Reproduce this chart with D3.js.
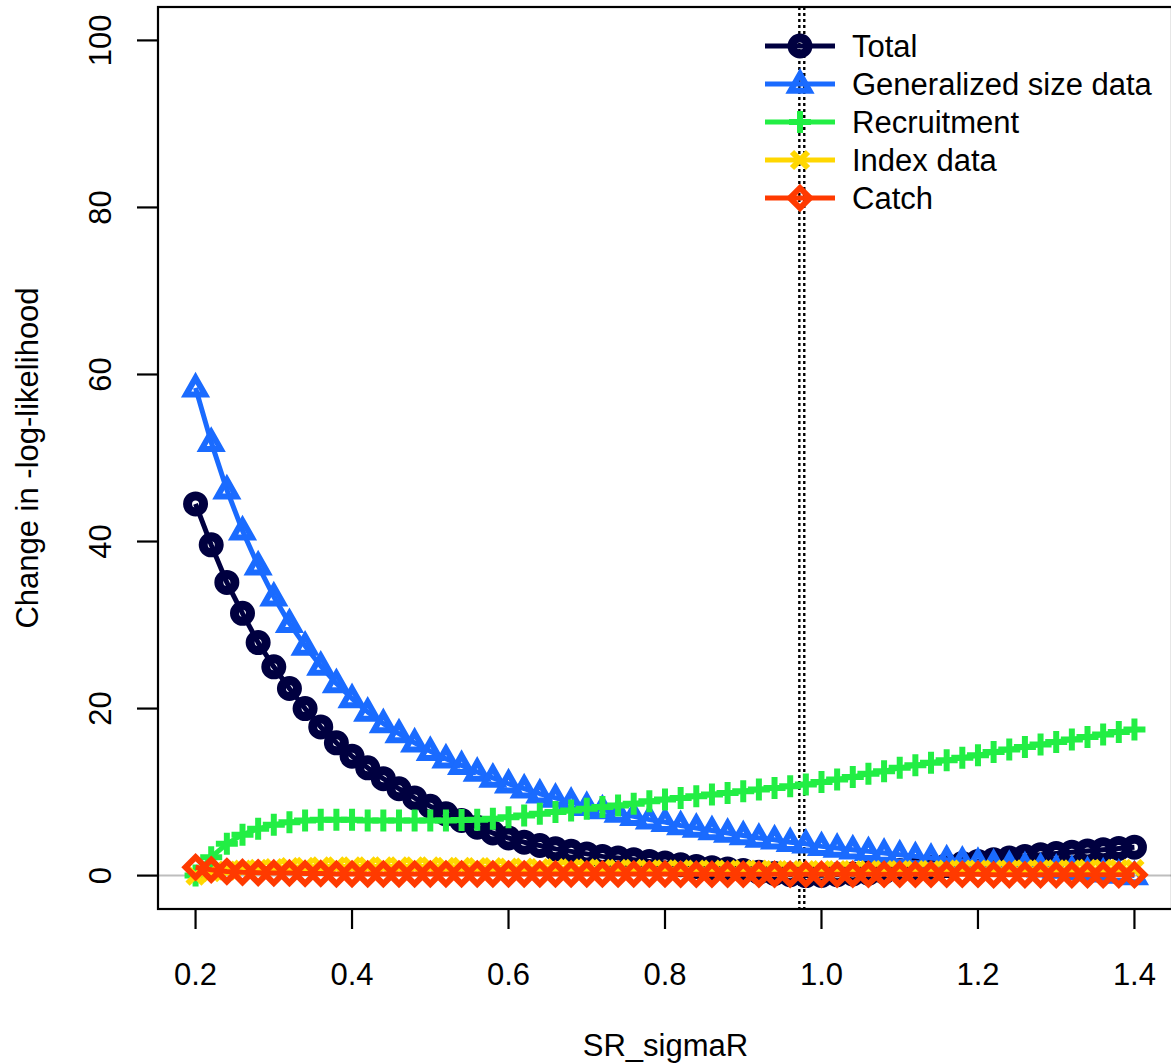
<!DOCTYPE html>
<html>
<head>
<meta charset="utf-8">
<script src="https://cdn.jsdelivr.net/npm/d3@7"></script>
<style>
  html, body { margin: 0; padding: 0; background: #fff; }
  svg { display: block; font-family: "Liberation Sans", Arial, sans-serif; }
</style>
</head>
<body>
<svg id="chart" width="1171" height="1063"></svg>
<script>
// ---------------- data ----------------
const sigmaR = [0.20,0.22,0.24,0.26,0.28,0.30,0.32,0.34,0.36,0.38,0.40,0.42,0.44,0.46,0.48,0.50,
  0.52,0.54,0.56,0.58,0.60,0.62,0.64,0.66,0.68,0.70,0.72,0.74,0.76,0.78,0.80,0.82,0.84,0.86,0.88,0.90,
  0.92,0.94,0.96,0.98,1.00,1.02,1.04,1.06,1.08,1.10,1.12,1.14,1.16,1.18,1.20,1.22,1.24,1.26,1.28,1.30,
  1.32,1.34,1.36,1.38,1.40];

const totalVals = [44.5,39.6,35.1,31.4,27.9,25.0,22.4,20.0,17.8,15.9,14.3,12.9,11.6,10.4,9.3,8.3,
  7.4,6.6,5.8,5.1,4.5,4.0,3.6,3.2,2.9,2.6,2.3,2.1,1.9,1.7,1.5,1.3,1.1,0.95,0.8,0.6,
  0.4,0.25,0.1,0.0,0.03,0.1,0.2,0.3,0.45,0.6,0.8,1.0,1.2,1.45,1.7,1.9,2.1,2.3,2.5,2.65,
  2.8,2.95,3.1,3.25,3.4];

const sizeVals = [58.4,51.9,46.2,41.3,37.1,33.4,30.2,27.5,25.1,23.0,21.2,19.6,18.2,17.0,15.9,14.9,
  14.0,13.2,12.4,11.7,11.0,10.4,9.8,9.3,8.8,8.3,7.9,7.5,7.1,6.7,6.4,6.0,5.7,5.4,5.1,4.8,
  4.5,4.3,4.0,3.8,3.5,3.3,3.1,2.9,2.7,2.5,2.3,2.1,1.9,1.75,1.6,1.4,1.25,1.1,0.95,0.8,
  0.65,0.5,0.35,0.2,0.0];

const recruitVals = [0.0,2.2,3.8,4.9,5.6,6.1,6.4,6.6,6.7,6.7,6.7,6.6,6.6,6.6,6.6,6.6,
  6.6,6.65,6.7,6.8,7.0,7.2,7.4,7.6,7.8,8.0,8.2,8.4,8.6,8.9,9.1,9.3,9.5,9.7,9.9,10.1,
  10.3,10.5,10.7,10.9,11.2,11.5,11.8,12.2,12.5,12.9,13.2,13.5,13.8,14.1,14.4,14.8,15.1,15.4,15.7,16.0,
  16.3,16.6,16.9,17.2,17.5];

const indexVals = [0.0,0.4,0.6,0.7,0.8,0.9,1.0,1.05,1.1,1.1,1.1,
  1.1,1.1,1.1,1.1,1.1, 1.05,1.05,1.0,1.0,0.95, 0.95,0.9,0.9,0.85,0.85, 0.8,0.8,0.8,0.75,0.75,
  0.75,0.7,0.7,0.7,0.7, 0.7,0.65,0.65,0.65,0.65, 0.65,0.65,0.65,0.65,0.65, 0.65,0.65,0.7,0.7,0.7,
  0.7,0.7,0.75,0.75,0.75, 0.75,0.8,0.8,0.8,0.8];

const catchVals = [1.0,0.7,0.5,0.4,0.35,0.3,0.3,0.25,0.25,0.2,0.2,
  0.2,0.2,0.2,0.2,0.2, 0.2,0.2,0.2,0.2,0.2, 0.2,0.2,0.2,0.2,0.2, 0.2,0.2,0.2,0.2,0.2,
  0.15,0.15,0.15,0.15,0.15, 0.15,0.15,0.15,0.15,0.15, 0.15,0.15,0.15,0.15,0.15, 0.15,0.15,0.15,0.15,0.15,
  0.1,0.1,0.1,0.1,0.1, 0.1,0.1,0.1,0.1,0.1];

const seriesNames = ["Total","Generalized size data","Recruitment","Index data","Catch"];
const seriesColors = ["#000040","#1a6bff","#22ee44","#ffd700","#ff3a00"];
const seriesShapes = ["circle","triangle","plus","cross","diamond"];
const seriesValues = [totalVals, sizeVals, recruitVals, indexVals, catchVals];

const xTicks = [0.2,0.4,0.6,0.8,1.0,1.2,1.4];
const yTicks = [0,20,40,60,80,100];
const refLines = [0.9717, 0.978];

const xTitle = "SR_sigmaR";
const yTitle = "Change in -log-likelihood";

// ---------------- layout ----------------
const svg = d3.select("#chart");
const L = 158, R = 1172, T = 7, B = 909;
const x = d3.scaleLinear().domain([0.152, 1.448]).range([L, R]);
const y = d3.scaleLinear().domain([-4, 104]).range([B, T]);
const FS = 31;

svg.append("defs").append("clipPath").attr("id","plotclip")
  .append("rect").attr("x",L).attr("y",T).attr("width",R-L).attr("height",B-T);

// zero line
svg.append("line")
  .attr("x1",L).attr("x2",R).attr("y1",y(0)).attr("y2",y(0))
  .attr("stroke","#bebebe").attr("stroke-width",2);

// reference dotted lines
svg.append("g").selectAll("line").data(refLines).join("line")
  .attr("x1",d=>x(d)).attr("x2",d=>x(d)).attr("y1",T).attr("y2",B)
  .attr("stroke","#000").attr("stroke-width",2.4).attr("stroke-dasharray","3,3");

function symbolPath(shape) {
  switch (shape) {
    case "triangle": { const h = 9; return `M0,${-h*1.1}L${h*1.05},${h*0.75}L${-h*1.05},${h*0.75}Z`; }
    case "plus": { const a = 11; return `M${-a},0L${a},0M0,${-a}L0,${a}`; }
    case "cross": { const a = 8; return `M${-a},${-a}L${a},${a}M${-a},${a}L${a},${-a}`; }
    case "diamond": { const a = 10; return `M0,${-a}L${a},0L0,${a}L${-a},0Z`; }
  }
  return null;
}

function drawMarker(g, shape, color, cx, cy) {
  if (shape === "circle") {
    g.append("circle").attr("cx",cx).attr("cy",cy).attr("r",8)
      .attr("fill","none").attr("stroke",color).attr("stroke-width",9);
  } else {
    g.append("path").attr("d",symbolPath(shape))
      .attr("transform",`translate(${cx},${cy})`)
      .attr("fill","none").attr("stroke",color)
      .attr("stroke-width",6)
      .attr("stroke-linejoin","miter");
  }
}

const plotG = svg.append("g").attr("clip-path","url(#plotclip)");
const line = d3.line().x(d=>x(d[0])).y(d=>y(d[1]));

seriesValues.forEach((vals, i) => {
  const pts = sigmaR.map((xv, j) => [xv, vals[j]]);
  const g = plotG.append("g");
  g.append("path").datum(pts).attr("d", line)
    .attr("fill","none").attr("stroke",seriesColors[i]).attr("stroke-width",5)
    .attr("stroke-linejoin","round");
  pts.forEach(p => drawMarker(g, seriesShapes[i], seriesColors[i], x(p[0]), y(p[1])));
});

// box
svg.append("rect").attr("x",L).attr("y",T).attr("width",R-L).attr("height",B-T)
  .attr("fill","none").attr("stroke","#000").attr("stroke-width",2.2);

// x axis
const xAxis = svg.append("g");
xAxis.selectAll("line").data(xTicks).join("line")
  .attr("x1",d=>x(d)).attr("x2",d=>x(d)).attr("y1",B).attr("y2",B+20)
  .attr("stroke","#000").attr("stroke-width",2.2);
xAxis.selectAll("text").data(xTicks).join("text")
  .attr("x",d=>x(d)).attr("y",B+76).attr("text-anchor","middle")
  .attr("font-size",FS).attr("fill","#000")
  .text(d=>d3.format(".1f")(d));

// y axis
const yAxis = svg.append("g");
yAxis.selectAll("line").data(yTicks).join("line")
  .attr("x1",L-21).attr("x2",L).attr("y1",d=>y(d)).attr("y2",d=>y(d))
  .attr("stroke","#000").attr("stroke-width",2.2);
yAxis.selectAll("text").data(yTicks).join("text")
  .attr("transform",d=>`translate(${L-47},${y(d)}) rotate(-90)`)
  .attr("text-anchor","middle")
  .attr("font-size",FS).attr("fill","#000")
  .text(d=>d);

// titles
svg.append("text").attr("x",(195+1136)/2).attr("y",1056).attr("text-anchor","middle")
  .attr("font-size",FS).attr("fill","#000").text(xTitle);
svg.append("text").attr("transform",`translate(38,${(T+B)/2}) rotate(-90)`)
  .attr("text-anchor","middle").attr("font-size",FS).attr("fill","#000").text(yTitle);

// legend
const legG = svg.append("g");
seriesNames.forEach((name, i) => {
  const ly = 46 + i*38;
  legG.append("line").attr("x1",765).attr("x2",835).attr("y1",ly).attr("y2",ly)
    .attr("stroke",seriesColors[i]).attr("stroke-width",5);
  drawMarker(legG, seriesShapes[i], seriesColors[i], 800, ly);
  legG.append("text").attr("x",852).attr("y",ly+11).attr("font-size",FS)
    .attr("fill","#000").text(name);
});
</script>
</body>
</html>
